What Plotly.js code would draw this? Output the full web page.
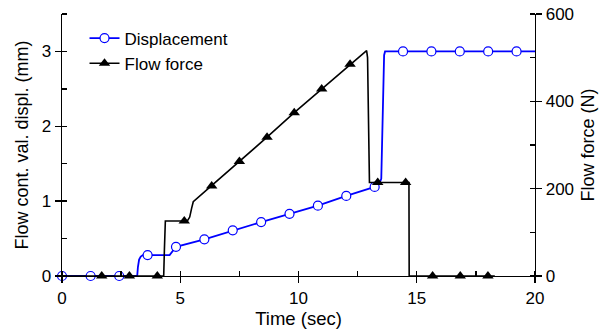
<!DOCTYPE html>
<html><head><meta charset="utf-8">
<script src="https://cdn.plot.ly/plotly-3.0.1.min.js"></script>
<style>html,body{margin:0;padding:0;background:#fff}#chart{width:606px;height:331px}</style>
</head><body><div id="chart"></div>
<script>
// Displacement curve (time s, mm)
const dispT = [0, 3.18, 3.21, 3.26, 3.33, 3.42, 4.55, 4.62, 4.70, 4.82, 6.02, 7.22, 8.42, 9.62, 10.82, 12.02, 13.22, 13.42, 13.50, 13.62, 13.66, 20];
const dispV = [0, 0, 0.12, 0.22, 0.26, 0.28, 0.28, 0.31, 0.35, 0.39, 0.49, 0.61, 0.72, 0.83, 0.94, 1.07, 1.19, 1.23, 1.30, 2.95, 3.0, 3.0];
// Displacement markers
const dispMarkT = [0, 1.21, 2.42, 3.62, 4.82, 6.02, 7.22, 8.42, 9.62, 10.82, 12.02, 13.22, 14.42, 15.62, 16.82, 18.02, 19.22];
const dispMarkV = [0, 0, 0, 0.28, 0.39, 0.49, 0.61, 0.72, 0.83, 0.94, 1.07, 1.19, 3.0, 3.0, 3.0, 3.0, 3.0];
// Flow force curve (time s, N)
const forceT = [0, 4.30, 4.33, 4.37, 5.30, 5.40, 5.48, 5.55, 6.35, 7.50, 8.67, 9.82, 10.98, 12.18, 12.88, 12.92, 12.96, 13.00, 14.67, 14.68, 18.3];
const forceV = [0, 0, 60, 126, 126, 135, 155, 170, 208, 262, 318, 374, 428, 485, 516, 500, 350, 214, 214, 0, 0];
// Flow force markers
const forceMarkT = [1.68, 2.85, 4.03, 5.17, 6.33, 7.50, 8.67, 9.82, 10.98, 12.18, 13.35, 14.53, 15.67, 16.84, 18.01];
const forceMarkV = [0, 0, 0, 126, 206, 262, 318, 374, 428, 485, 214, 214, 0, 0, 0];

const seriesNames = ['Displacement', 'Flow force'];
const xTitle = 'Time (sec)';
const yTitle = 'Flow cont. val. displ. (mm)';
const y2Title = 'Flow force (N)';

const FONT = 'Arial, "Liberation Sans", sans-serif';
const BLUE = '#0000ff';
const dispMarker = {symbol: 'circle', size: 9, color: '#ffffff', line: {color: BLUE, width: 1.2}};
const forceMarker = {symbol: 'triangle-up', size: 10, color: '#000000', line: {width: 0}};

const traces = [
  {x: dispT, y: dispV, mode: 'lines', line: {color: BLUE, width: 1.8}, showlegend: false},
  {x: dispMarkT, y: dispMarkV, mode: 'markers', marker: dispMarker, showlegend: false, cliponaxis: false},
  {x: forceT, y: forceV, yaxis: 'y2', mode: 'lines', line: {color: '#000000', width: 1.6}, showlegend: false},
  {x: forceMarkT, y: forceMarkV, yaxis: 'y2', mode: 'markers', marker: forceMarker, showlegend: false, cliponaxis: false},
  {x: [null], y: [null], name: seriesNames[0], mode: 'lines+markers', line: {color: BLUE, width: 1.8}, marker: dispMarker},
  {x: [null], y: [null], name: seriesNames[1], mode: 'lines+markers', line: {color: '#000000', width: 1.6}, marker: forceMarker}
];

const axisCommon = {
  showgrid: false, zeroline: false, showline: true, linecolor: '#000', linewidth: 1.3,
  ticks: 'outside', ticklen: 6, tickwidth: 1.3, tickcolor: '#000',
  tickfont: {family: FONT, size: 17, color: '#000'}
};
const minorCommon = {ticks: 'inside', ticklen: 5, tickwidth: 1.3, tickcolor: '#000'};

const layout = {
  width: 606, height: 331,
  margin: {l: 62, r: 71, t: 14, b: 55},
  paper_bgcolor: '#fff', plot_bgcolor: '#fff',
  font: {family: FONT, size: 17, color: '#000'},
  showlegend: true,
  legend: {x: 0.0476, y: 0.975, xanchor: 'left', yanchor: 'top', bgcolor: 'rgba(0,0,0,0)', font: {family: FONT, size: 17}},
  xaxis: Object.assign({}, axisCommon, {
    range: [0, 20], tick0: 0, dtick: 5,
    minor: Object.assign({dtick: 2.5}, minorCommon),
    title: {text: xTitle, font: {family: FONT, size: 18.5}, standoff: 5}
  }),
  xaxis2: Object.assign({}, axisCommon, {
    overlaying: 'x', side: 'top', range: [0, 20], tick0: 0, dtick: 5, ticks: 'inside',
    showticklabels: false,
    minor: Object.assign({dtick: 2.5}, minorCommon)
  }),
  yaxis: Object.assign({}, axisCommon, {
    range: [0, 3.5], tick0: 0, dtick: 1,
    minor: Object.assign({dtick: 0.5}, minorCommon),
    title: {text: yTitle, font: {family: FONT, size: 18}, standoff: 8}
  }),
  yaxis2: Object.assign({}, axisCommon, {
    overlaying: 'y', side: 'right', range: [0, 600], tick0: 0, dtick: 200,
    minor: Object.assign({dtick: 100}, minorCommon),
    title: {text: y2Title, font: {family: FONT, size: 18}, standoff: 8}
  })
};

Plotly.newPlot('chart', traces, layout, {staticPlot: true, displayModeBar: false});
</script>
</body></html>
